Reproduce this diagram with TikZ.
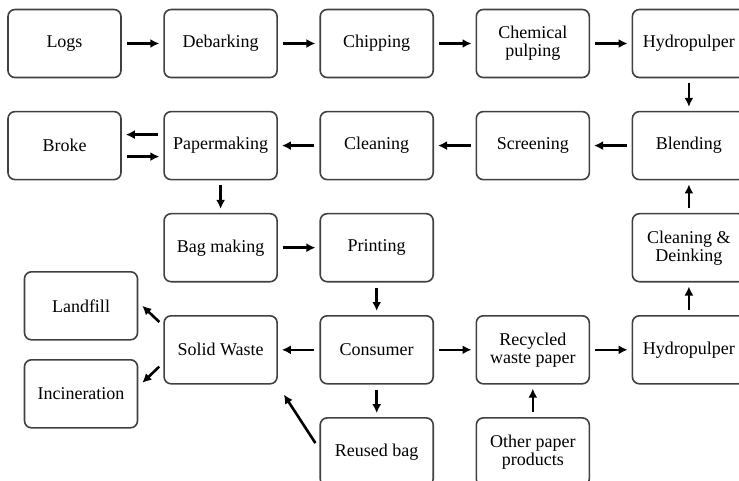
\documentclass[tikz,border=0pt]{standalone}
\usepackage{fontspec}
\setmainfont{Liberation Serif}
\usetikzlibrary{positioning,arrows.meta}
\tikzset{
  box/.style={rectangle, rounded corners=7pt, draw=black!75, line width=1.6pt, minimum width=113pt, minimum height=68pt, align=center, font=\fontsize{18}{18}\selectfont},
  connect/.style={-{Latex[length=9pt,width=9pt]}, line width=2.6pt, shorten <=5pt, shorten >=4pt}
}
\begin{document}
\begin{tikzpicture}[x=1pt, y=1pt, node distance=32.5pt and 41.5pt]
  \useasboundingbox (0,0) rectangle (739,-481);
  \clip (0,0) rectangle (739,-481);

  % Virgin fibre line
  \node[box] (logs) at (64.5,-43.5) {Logs};
  \node[box] (debark) [right=of logs] {Debarking};
  \node[box] (chip) [right=of debark] {Chipping};
  \node[box] (chem) [right=of chip] {Chemical\\pulping};
  \node[box] (hydro1) [right=of chem] {Hydropulper};

  % Stock preparation
  \node[box] (blend) [below=of hydro1] {Blending};
  \node[box] (screen) [left=of blend] {Screening};
  \node[box] (clean) [left=of screen] {Cleaning};
  \node[box] (paper) [left=of clean] {Papermaking};
  \node[box] (broke) [left=of paper] {Broke};

  % Bag and use
  \node[box] (bag) [below=of paper] {Bag making};
  \node[box] (print) [right=of bag] {Printing};
  \node[box] (deink) [below=of blend] {Cleaning \&\\Deinking};
  \node[box] (solid) [below=of bag] {Solid Waste};
  \node[box] (consumer) [below=of print] {Consumer};
  \node[box] (recycled) [right=of consumer] {Recycled\\waste paper};
  \node[box] (hydro2) [below=of deink] {Hydropulper};
  \node[box] (reused) [below=of consumer] {Reused bag};
  \node[box] (other) [below=of recycled] {Other paper\\products};

  % End of life
  \node[box] (landfill) [left=25pt of solid, yshift=44pt] {Landfill};
  \node[box] (incin) [left=25pt of solid, yshift=-44pt] {Incineration};

  % Main flow
  \foreach \a/\b in {logs/debark, debark/chip, chip/chem, chem/hydro1, hydro1/blend,
                     blend/screen, screen/clean, clean/paper, paper/bag, bag/print,
                     print/consumer, consumer/solid, consumer/recycled, consumer/reused,
                     other/recycled, recycled/hydro2, hydro2/deink, deink/blend} {
    \draw[connect] (\a) -- (\b);
  }

  % Broke loop
  \draw[connect] ([yshift=11pt]paper.west) -- ([yshift=11pt]broke.east);
  \draw[connect] ([yshift=-11pt]broke.east) -- ([yshift=-11pt]paper.west);

  % Waste routes
  \draw[connect, shorten <=0pt, shorten >=0pt] ([xshift=-4pt, yshift=-7pt]solid.north west) -- ([xshift=4pt]landfill.east);
  \draw[connect, shorten <=0pt, shorten >=0pt] ([xshift=-4pt, yshift=18pt]solid.south west) -- ([xshift=4pt, yshift=11pt]incin.east);
  \draw[connect, shorten <=0pt, shorten >=0pt] ([xshift=-4pt, yshift=-26pt]reused.north west) -- ([xshift=6pt, yshift=-10pt]solid.south east);
\end{tikzpicture}
\end{document}
